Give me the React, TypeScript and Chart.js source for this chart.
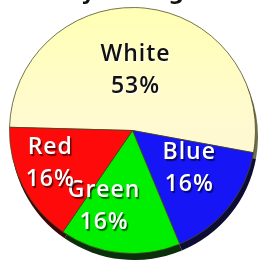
import React, { useEffect, useRef } from 'react';
import { Chart, registerables } from 'chart.js';

Chart.register(...registerables);

const categories = ['White', 'Blue', 'Green', 'Red'];
const percentValues = [53, 16, 16, 16];
const sliceColors = ['#FFFCC4', '#1515F6', '#00EE00', '#FF0A0A'];
const sideColors = ['#6e6e4a', '#0d0d33', '#0b2e0b', '#3a0808'];
const labelColors = ['#111111', '#ffffff', '#ffffff', '#ffffff'];
const titleText = 'Sales by Rating';

const FONT = '"Open Sans", "DejaVu Sans", sans-serif';

// label placement tweaks (angle shift in degrees, radial fraction) to mimic the tilted view
const labelAngleShift = [-3.6, -5.2, 14.9, 5.1];
const labelRadial = [0.49, 0.55, 0.66, 0.725];

const sidePlugin = {
  id: 'pieSide',
  beforeDatasetsDraw(chart: any) {
    const ctx = chart.ctx;
    const meta = chart.getDatasetMeta(0);
    const dx = 2;
    const dy = 6;
    meta.data.forEach((arc: any, i: number) => {
      const { x, y, startAngle, endAngle, outerRadius } = arc.getProps(
        ['x', 'y', 'startAngle', 'endAngle', 'outerRadius'],
        true
      );
      ctx.save();
      ctx.fillStyle = sideColors[i];
      ctx.beginPath();
      ctx.moveTo(x + dx, y + dy);
      ctx.arc(x + dx, y + dy, outerRadius + 0.5, startAngle, endAngle);
      ctx.closePath();
      ctx.fill();
      ctx.restore();
    });
  },
};

const labelPlugin = {
  id: 'pieLabels',
  afterDatasetsDraw(chart: any) {
    const ctx = chart.ctx;
    const meta = chart.getDatasetMeta(0);
    meta.data.forEach((arc: any, i: number) => {
      const { x, y, startAngle, endAngle, outerRadius } = arc.getProps(
        ['x', 'y', 'startAngle', 'endAngle', 'outerRadius'],
        true
      );
      const mid = (startAngle + endAngle) / 2 + (labelAngleShift[i] * Math.PI) / 180;
      const k = labelRadial[i];
      const cx = x + Math.cos(mid) * outerRadius * k;
      const cy = y + Math.sin(mid) * outerRadius * k;
      ctx.save();
      ctx.font = `600 23px ${FONT}`;
      try {
        (ctx as any).letterSpacing = '1px';
      } catch (e) {
        /* ignore */
      }
      ctx.textAlign = 'center';
      ctx.textBaseline = 'middle';
      if (i === 0) {
        ctx.shadowColor = 'rgba(255,255,255,0.7)';
      } else {
        ctx.shadowColor = 'rgba(0,0,0,0.6)';
      }
      ctx.shadowOffsetX = 1.5;
      ctx.shadowOffsetY = 2;
      ctx.shadowBlur = 1;
      ctx.fillStyle = labelColors[i];
      ctx.fillText(categories[i], cx + 0.5, cy - 16);
      ctx.fillText(percentValues[i] + '%', cx + 0.5, cy + 16);
      ctx.restore();
    });
  },
};

const titlePlugin = {
  id: 'cutTitle',
  afterDraw(chart: any) {
    const ctx = chart.ctx;
    ctx.save();
    ctx.font = `bold 22px "DejaVu Sans", sans-serif`;
    ctx.fillStyle = '#111111';
    ctx.textAlign = 'left';
    ctx.textBaseline = 'alphabetic';
    const idx = titleText.indexOf('y');
    const before = ctx.measureText(titleText.slice(0, idx)).width;
    const yw = ctx.measureText('y').width;
    ctx.fillText(titleText, 88 - before - yw / 2, 0);
    ctx.restore();
  },
};

export default function App() {
  const canvasRef = useRef<HTMLCanvasElement | null>(null);

  useEffect(() => {
    if (!canvasRef.current) return;
    const chart = new Chart(canvasRef.current, {
      type: 'pie',
      data: {
        labels: categories,
        datasets: [
          {
            data: percentValues,
            backgroundColor: (c: any) => {
              const i = c.dataIndex;
              if (i === 0 && c.chart.chartArea) {
                const { top, bottom } = c.chart.chartArea;
                const g = c.chart.ctx.createLinearGradient(0, top, 0, (top + bottom) / 2);
                g.addColorStop(0, '#FFFFB4');
                g.addColorStop(1, '#FFF9D2');
                return g;
              }
              return sliceColors[i];
            },
            borderColor: 'rgba(70,70,30,0.75)',
            borderWidth: 1,
          },
        ],
      },
      options: {
        animation: false,
        responsive: true,
        maintainAspectRatio: false,
        rotation: 271.5,
        layout: { padding: { left: 9, right: 5, top: 7, bottom: 6 } },
        plugins: {
          legend: { display: false },
          title: { display: false },
          tooltip: { enabled: false },
        },
        events: [],
      },
      plugins: [sidePlugin, labelPlugin, titlePlugin],
    });
    return () => chart.destroy();
  }, []);

  return (
    <div
      style={{
        position: 'fixed',
        left: 0,
        top: 0,
        width: 261,
        height: 260,
        background: '#ffffff',
      }}
    >
      <canvas ref={canvasRef} style={{ display: 'block' }} />
    </div>
  );
}
